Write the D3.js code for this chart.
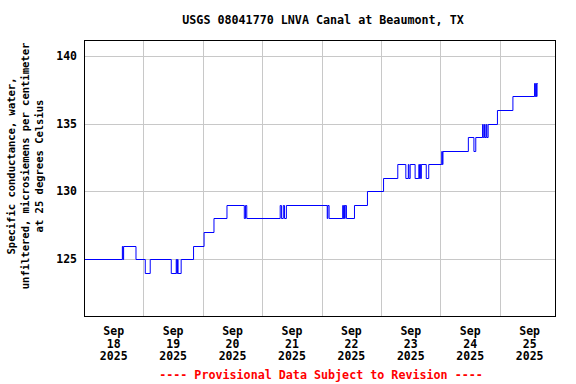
<!DOCTYPE html>
<html>
<head>
<meta charset="utf-8">
<script src="https://cdn.jsdelivr.net/npm/d3@7/dist/d3.min.js"></script>
<style>
  body { margin: 0; background: #fff; }
  svg text { font-family: "DejaVu Sans Mono", monospace; font-weight: bold; }
</style>
</head>
<body>
<div id="chart"></div>
<script>
var chartTitle = "USGS 08041770 LNVA Canal at Beaumont, TX";
var yTitleLines = ["Specific conductance, water,", "unfiltered, microsiemens per centimeter", "at 25 degrees Celsius"];
var footerText = "---- Provisional Data Subject to Revision ----";

// times where the reading changes, and the value it changes to
var changeTimes = [
  "2025-09-18 00:00", "2025-09-18 15:30", "2025-09-18 15:45", "2025-09-18 16:00", "2025-09-18 21:00",
  "2025-09-19 00:45", "2025-09-19 02:45", "2025-09-19 11:15", "2025-09-19 13:15", "2025-09-19 13:30",
  "2025-09-19 13:45", "2025-09-19 14:00", "2025-09-19 15:15", "2025-09-19 20:15",
  "2025-09-20 00:30", "2025-09-20 04:30", "2025-09-20 09:45", "2025-09-20 16:45", "2025-09-20 17:15",
  "2025-09-20 17:45",
  "2025-09-21 07:15", "2025-09-21 07:45", "2025-09-21 08:30", "2025-09-21 09:00", "2025-09-21 09:45",
  "2025-09-22 02:15", "2025-09-22 02:30", "2025-09-22 03:00", "2025-09-22 08:30", "2025-09-22 08:45",
  "2025-09-22 09:00", "2025-09-22 09:15", "2025-09-22 09:30", "2025-09-22 10:00", "2025-09-22 13:15",
  "2025-09-22 18:30",
  "2025-09-23 01:00", "2025-09-23 06:45", "2025-09-23 10:00", "2025-09-23 11:00", "2025-09-23 11:15",
  "2025-09-23 11:45", "2025-09-23 13:45", "2025-09-23 15:15", "2025-09-23 15:30", "2025-09-23 15:45",
  "2025-09-23 16:00", "2025-09-23 16:15", "2025-09-23 18:15", "2025-09-23 19:15",
  "2025-09-24 00:30", "2025-09-24 00:45", "2025-09-24 01:00", "2025-09-24 11:15", "2025-09-24 13:30",
  "2025-09-24 14:15", "2025-09-24 17:00", "2025-09-24 17:15", "2025-09-24 17:45", "2025-09-24 18:00",
  "2025-09-24 18:30", "2025-09-24 18:45", "2025-09-24 19:15", "2025-09-24 23:00",
  "2025-09-25 05:15", "2025-09-25 14:00", "2025-09-25 14:15", "2025-09-25 14:30", "2025-09-25 14:45",
  "2025-09-25 15:00", "2025-09-25 15:15"
];
var changeValues = [
  125, 126, 125, 126, 125,
  124, 125, 124, 125, 124,
  125, 124, 125, 126,
  127, 128, 129, 128, 129,
  128,
  129, 128, 129, 128, 129,
  128, 129, 128, 129, 128,
  129, 128, 129, 128, 129,
  130,
  131, 132, 131, 132, 131,
  132, 131, 132, 131, 132,
  131, 132, 131, 132,
  133, 132, 133, 134, 133,
  134, 135, 134, 135, 134,
  135, 134, 135, 136,
  137, 138, 137, 138, 137,
  138, 138
];

var dayTicks = ["2025-09-18", "2025-09-19", "2025-09-20", "2025-09-21", "2025-09-22", "2025-09-23", "2025-09-24", "2025-09-25"];
var yTicks = [125, 130, 135, 140];
var xStart = "2025-09-18 00:00", xEnd = "2025-09-25 22:15";
var yMin = 120.8, yMax = 141.16;

var W = 576, H = 384;
var margin = {left: 84, right: 21, top: 40, bottom: 68};

var parseT = d3.timeParse("%Y-%m-%d %H:%M");
var parseD = d3.timeParse("%Y-%m-%d");

var data = changeTimes.map(function(t, i) {
    return {t: parseT(t), v: changeValues[i]};
});

var svg = d3.select("#chart").append("svg")
    .attr("width", W)
    .attr("height", H);

var x = d3.scaleTime()
    .domain([parseT(xStart), parseT(xEnd)])
    .range([margin.left, W - margin.right]);

var y = d3.scaleLinear()
    .domain([yMin, yMax])
    .range([H - margin.bottom, margin.top]);

// grid
var days = dayTicks.map(parseD);
svg.append("g")
    .selectAll("line")
    .data(days.slice(1))
    .join("line")
    .attr("x1", function(d) { return Math.round(x(d)) + 0.5; })
    .attr("x2", function(d) { return Math.round(x(d)) + 0.5; })
    .attr("y1", margin.top)
    .attr("y2", H - margin.bottom)
    .attr("stroke", "#c8c8c8")
    .attr("stroke-width", 1);

svg.append("g")
    .selectAll("line")
    .data(yTicks)
    .join("line")
    .attr("x1", margin.left)
    .attr("x2", W - margin.right)
    .attr("y1", function(d) { return Math.round(y(d)) + 0.5; })
    .attr("y2", function(d) { return Math.round(y(d)) + 0.5; })
    .attr("stroke", "#c8c8c8")
    .attr("stroke-width", 1);

// data line
var line = d3.line()
    .x(function(d) { return x(d.t); })
    .y(function(d) { return Math.round(y(d.v)) + 0.5; })
    .curve(d3.curveStepAfter);

svg.append("path")
    .datum(data)
    .attr("fill", "none")
    .attr("stroke", "#0000ff")
    .attr("stroke-width", 1)
    .attr("d", line);

// frame
svg.append("rect")
    .attr("x", margin.left + 0.5)
    .attr("y", margin.top + 0.5)
    .attr("width", W - margin.left - margin.right)
    .attr("height", H - margin.top - margin.bottom)
    .attr("fill", "none")
    .attr("stroke", "#000")
    .attr("stroke-width", 1);

// y tick labels
svg.append("g")
    .selectAll("text")
    .data(yTicks)
    .join("text")
    .attr("x", margin.left - 7)
    .attr("y", function(d) { return y(d) + 4; })
    .attr("text-anchor", "end")
    .attr("font-size", "11.5px")
    .text(function(d) { return d; });

// x tick labels at noon of each day
var fmtM = d3.timeFormat("%b"), fmtD = d3.timeFormat("%d"), fmtY = d3.timeFormat("%Y");
var xl = svg.append("g")
    .selectAll("text")
    .data(days)
    .join("text")
    .attr("text-anchor", "middle")
    .attr("font-size", "11.5px")
    .attr("transform", function(d) { return "translate(" + x(d3.timeHour.offset(d, 12)) + ",0)"; });
xl.append("tspan").attr("x", 0).attr("y", 335).text(function(d) { return fmtM(d); });
xl.append("tspan").attr("x", 0).attr("y", 347.5).text(function(d) { return fmtD(d); });
xl.append("tspan").attr("x", 0).attr("y", 360).text(function(d) { return fmtY(d); });

// title
svg.append("text")
    .attr("x", 323)
    .attr("y", 24)
    .attr("text-anchor", "middle")
    .attr("font-size", "11.7px")
    .text(chartTitle);

// y axis title
var yt = svg.append("text")
    .attr("transform", "translate(0,166) rotate(-90)")
    .attr("text-anchor", "middle")
    .attr("font-size", "10.5px");
yt.selectAll("tspan")
    .data(yTitleLines)
    .join("tspan")
    .attr("x", 0)
    .attr("y", function(d, i) { return 15 + i * 14; })
    .text(function(d) { return d; });

// footer
svg.append("text")
    .attr("x", 321)
    .attr("y", 379)
    .attr("text-anchor", "middle")
    .attr("font-size", "11.7px")
    .attr("fill", "#ff0000")
    .text(footerText);
</script>
</body>
</html>
